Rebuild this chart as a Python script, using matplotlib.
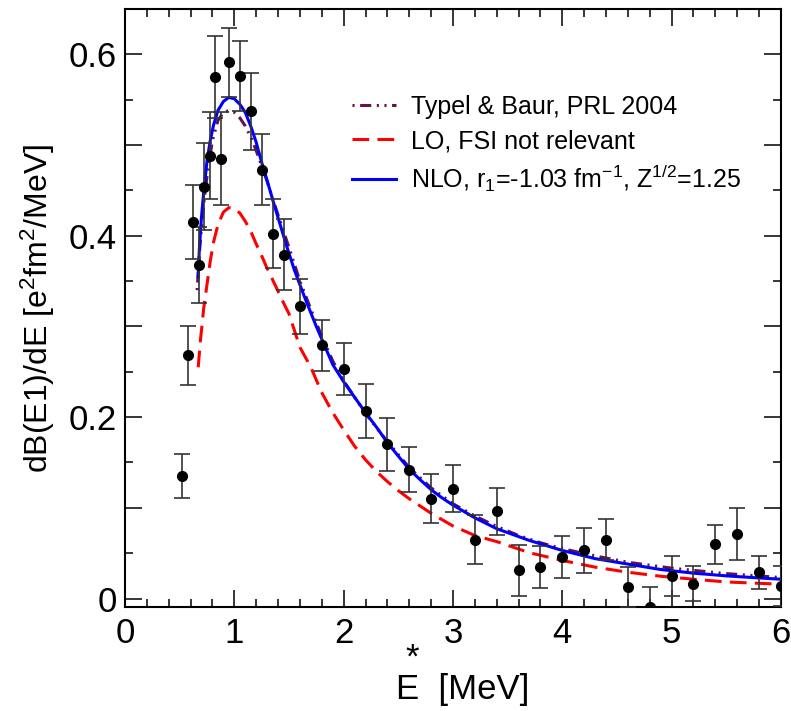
import matplotlib
matplotlib.use("Agg")
import matplotlib.pyplot as plt
from matplotlib.ticker import MultipleLocator, FuncFormatter

plt.rcParams['font.family'] = ['Liberation Sans', 'DejaVu Sans']
plt.rcParams['mathtext.fontset'] = 'custom'
plt.rcParams['mathtext.rm'] = 'Liberation Sans'
plt.rcParams['mathtext.it'] = 'Liberation Sans:italic'
plt.rcParams['lines.scale_dashes'] = False

# measured strength (points with symmetric errors)
e_data = [0.525, 0.575, 0.625, 0.675, 0.725, 0.775, 0.825, 0.875, 0.95, 1.05,
          1.15, 1.25, 1.35, 1.45, 1.6, 1.8, 2.0, 2.2, 2.4, 2.6, 2.8, 3.0, 3.2,
          3.4, 3.6, 3.8, 4.0, 4.2, 4.4, 4.6, 4.8, 5.0, 5.2, 5.4, 5.6, 5.8, 6.0]
b_data = [0.135, 0.268, 0.415, 0.368, 0.454, 0.488, 0.575, 0.485, 0.591, 0.576,
          0.537, 0.473, 0.402, 0.379, 0.322, 0.279, 0.253, 0.207, 0.170, 0.142,
          0.110, 0.121, 0.065, 0.096, 0.031, 0.035, 0.046, 0.053, 0.065, 0.0125,
          -0.0096, 0.025, 0.0165, 0.060, 0.071, 0.029, 0.0136]
b_err = [0.024, 0.033, 0.041, 0.042, 0.048, 0.048, 0.045, 0.051, 0.038, 0.039,
         0.042, 0.039, 0.038, 0.039, 0.030, 0.028, 0.029, 0.030, 0.029, 0.025,
         0.027, 0.026, 0.027, 0.026, 0.028, 0.023, 0.023, 0.025, 0.023, 0.022,
         0.022, 0.022, 0.019, 0.0215, 0.029, 0.018, 0.022]

# Typel & Baur curve
e_tb = [0.66, 0.68, 0.70, 0.73, 0.76, 0.80, 0.85, 0.90, 0.95, 1.00, 1.05, 1.10,
        1.15, 1.20, 1.25, 1.30, 1.35, 1.40, 1.50, 1.60, 1.70, 1.80, 1.90, 2.0,
        2.2, 2.4, 2.6, 2.8, 3.0, 3.2, 3.4, 3.6, 3.8, 4.0, 4.3, 4.6, 5.0, 5.5, 6.0]
b_tb = [0.340, 0.380, 0.410, 0.445, 0.475, 0.505, 0.527, 0.536, 0.538, 0.536,
        0.530, 0.521, 0.509, 0.494, 0.477, 0.460, 0.441, 0.423, 0.387, 0.350,
        0.319, 0.289, 0.262, 0.240, 0.204, 0.173, 0.1445, 0.122, 0.1045, 0.091,
        0.0795, 0.0695, 0.0615, 0.055, 0.047, 0.040, 0.0335, 0.0275, 0.0232]

# LO curve
e_lo = [0.67, 0.69, 0.70, 0.72, 0.75, 0.78, 0.81, 0.85, 0.90, 0.95, 1.00, 1.05,
        1.10, 1.15, 1.20, 1.25, 1.30, 1.36, 1.45, 1.50, 1.60, 1.70, 1.80, 1.90,
        2.0, 2.1, 2.2, 2.3, 2.4, 2.5, 2.6, 2.8, 3.0, 3.2, 3.4, 3.7, 4.0, 4.3,
        4.6, 4.9, 5.2, 5.5, 6.0]
b_lo = [0.255, 0.285, 0.296, 0.320, 0.346, 0.372, 0.393, 0.412, 0.426, 0.431,
        0.430, 0.425, 0.416, 0.405, 0.391, 0.378, 0.364, 0.349, 0.326, 0.314,
        0.277, 0.255, 0.227, 0.205, 0.186, 0.168, 0.153, 0.140, 0.129, 0.119,
        0.110, 0.094, 0.080, 0.0695, 0.0628, 0.0505, 0.042, 0.0346, 0.029,
        0.0246, 0.0213, 0.0183, 0.0158]

# NLO curve
e_nlo = [0.67, 0.68, 0.70, 0.72, 0.75, 0.78, 0.81, 0.85, 0.90, 0.95, 1.00, 1.05,
         1.10, 1.15, 1.20, 1.25, 1.30, 1.36, 1.42, 1.48, 1.55, 1.60, 1.65, 1.75,
         1.85, 1.90, 2.0, 2.1, 2.2, 2.3, 2.4, 2.5, 2.6, 2.7, 2.8, 2.9, 3.0, 3.2,
         3.4, 3.7, 4.0, 4.3, 4.6, 4.9, 5.2, 5.5, 5.8, 6.0]
b_nlo = [0.355, 0.385, 0.421, 0.448, 0.482, 0.505, 0.522, 0.538, 0.548, 0.5525,
         0.551, 0.545, 0.536, 0.521, 0.503, 0.481, 0.461, 0.436, 0.412, 0.388,
         0.362, 0.346, 0.330, 0.300, 0.272, 0.258, 0.239, 0.222, 0.205, 0.189,
         0.172, 0.157, 0.1425, 0.131, 0.120, 0.111, 0.103, 0.089, 0.077, 0.064,
         0.053, 0.044, 0.038, 0.032, 0.028, 0.025, 0.0227, 0.0213]

fig = plt.figure(figsize=(7.91, 7.11), dpi=100)
ax = fig.add_axes([0.158, 0.1463, 0.8293, 0.8411])

ax.plot(e_tb, b_tb, color='#66104c', lw=2.2,
        linestyle=(0, (1.5, 4, 8, 4, 1.5, 4)), label='Typel & Baur, PRL 2004')
ax.plot(e_lo, b_lo, color='#ff0000', lw=2.2, linestyle=(0, (12, 6)),
        label='LO, FSI not relevant')
ax.plot(e_nlo, b_nlo, color='#0000ff', lw=2.2,
        label=r'NLO, r$_\mathregular{1}$=-1.03 fm$^\mathregular{-1}$, Z$^\mathregular{1/2}$=1.25')

ax.errorbar(e_data, b_data, yerr=b_err, fmt='o', color='black', ms=7,
            ecolor='#333333', elinewidth=1.2, capsize=6, capthick=1.2, zorder=5)

ax.set_xlim(0, 6)
ax.set_ylim(-0.0093, 0.65)

ax.xaxis.set_major_locator(MultipleLocator(1))
ax.xaxis.set_minor_locator(MultipleLocator(0.2))
ax.yaxis.set_major_locator(MultipleLocator(0.1))
ax.yaxis.set_minor_locator(MultipleLocator(0.05))


def ylab(v, pos):
    k = int(round(v * 10))
    if k % 2:
        return ''
    return '0' if k == 0 else '%.1f' % (k / 10.0)


ax.yaxis.set_major_formatter(FuncFormatter(ylab))
ax.xaxis.set_major_formatter(FuncFormatter(lambda v, p: '%d' % round(v)))

ax.tick_params(which='both', direction='in', top=True, right=True, width=1.1)
ax.tick_params(which='major', length=12, labelsize=25)
ax.tick_params(which='minor', length=6)
ax.tick_params(axis='x', pad=7)
ax.tick_params(axis='y', pad=6)
for s in ax.spines.values():
    s.set_linewidth(1.5)

# star sits well above the E, as in the original
ax.set_xlabel('E  [MeV]', fontsize=25)
ax.xaxis.set_label_coords(0.515, -0.11)
ax.text(0.4375, -0.085, '*', transform=ax.transAxes, fontsize=25,
        ha='center', va='center')
ax.set_ylabel(r'dB(E1)/dE [e$^\mathregular{2}$fm$^\mathregular{2}$/MeV]',
              fontsize=23, labelpad=8)

ax.legend(loc='upper left', bbox_to_anchor=(0.346, 0.856), frameon=False,
          fontsize=18, handlelength=1.75, handletextpad=0.6, labelspacing=0.4,
          borderpad=0, borderaxespad=0)

fig.savefig('out.png', dpi=100)
